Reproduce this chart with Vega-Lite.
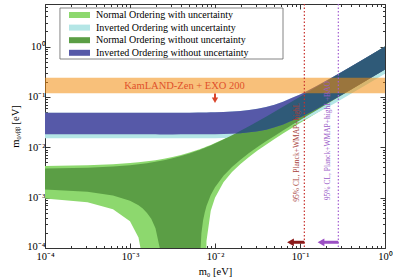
{
  "$schema": "https://vega.github.io/schema/vega-lite/v6.json",
  "width": 340,
  "height": 244,
  "autosize": {"type": "none"},
  "padding": {"left": 45, "top": 4, "right": 8, "bottom": 32},
  "config": {
    "font": "Liberation Serif",
    "view": {"stroke": "#333", "strokeWidth": 1},
    "axis": {"grid": false, "domain": false, "tickColor": "#333", "labelFont": "Liberation Serif", "labelFontSize": 10.5, "labelColor": "#000", "titleFont": "Liberation Serif", "titleFontSize": 10.5, "titleFontWeight": "normal", "titleColor": "#000", "labelFlush": false, "labelOverlap": false}
  },
  "datasets": {
    "bands": [
      {"m0": 0.0001, "no_lo": 0.001459, "no_hi": 0.003794, "nou_lo": 0.000965, "nou_hi": 0.004266, "io_lo": 0.018069, "io_hi": 0.048393, "iou_lo": 0.015112},
      {"m0": 0.000316, "no_lo": 0.001315, "no_hi": 0.003941, "nou_lo": 0.000812, "nou_hi": 0.004405, "io_lo": 0.018064, "io_hi": 0.048398, "iou_lo": 0.015106},
      {"m0": 0.000631, "no_lo": 0.001107, "no_hi": 0.004159, "nou_lo": 0.000591, "nou_hi": 0.004611, "io_lo": 0.018058, "io_hi": 0.048408, "iou_lo": 0.0151},
      {"m0": 0.001, "no_lo": 0.000868, "no_hi": 0.004418, "nou_lo": 0.000338, "nou_hi": 0.004857, "io_lo": 0.018052, "io_hi": 0.048422, "iou_lo": 0.015092},
      {"m0": 0.001259, "no_lo": 0.000703, "no_hi": 0.004603, "nou_lo": 0.000161, "nou_hi": 0.005032, "io_lo": 0.018048, "io_hi": 0.048434, "iou_lo": 0.015088},
      {"m0": 0.001413, "no_lo": 0.000607, "no_hi": 0.004715, "nou_lo": 0.000058, "nou_hi": 0.005138, "io_lo": 0.018047, "io_hi": 0.048441, "iou_lo": 0.015085},
      {"m0": 0.001585, "no_lo": 0.000498, "no_hi": 0.00484, "nou_lo": 0.000001, "nou_hi": 0.005258, "io_lo": 0.018045, "io_hi": 0.048451, "iou_lo": 0.015082},
      {"m0": 0.001778, "no_lo": 0.00038, "no_hi": 0.004982, "nou_lo": 0.000001, "nou_hi": 0.005393, "io_lo": 0.018043, "io_hi": 0.048461, "iou_lo": 0.01508},
      {"m0": 0.001995, "no_lo": 0.000248, "no_hi": 0.005142, "nou_lo": 0.000001, "nou_hi": 0.005546, "io_lo": 0.018042, "io_hi": 0.048474, "iou_lo": 0.015077},
      {"m0": 0.002239, "no_lo": 0.0001, "no_hi": 0.005324, "nou_lo": 0.000001, "nou_hi": 0.005721, "io_lo": 0.01804, "io_hi": 0.048488, "iou_lo": 0.015073},
      {"m0": 0.002512, "no_lo": 0.000001, "no_hi": 0.00553, "nou_lo": 0.000001, "nou_hi": 0.00592, "io_lo": 0.01804, "io_hi": 0.048508, "iou_lo": 0.015071},
      {"m0": 0.003162, "no_lo": 0.000001, "no_hi": 0.006031, "nou_lo": 0.000001, "nou_hi": 0.006402, "io_lo": 0.018039, "io_hi": 0.048559, "iou_lo": 0.015067},
      {"m0": 0.003981, "no_lo": 0.000001, "no_hi": 0.006679, "nou_lo": 0.000001, "nou_hi": 0.007028, "io_lo": 0.018043, "io_hi": 0.048635, "iou_lo": 0.015066},
      {"m0": 0.005012, "no_lo": 0.000001, "no_hi": 0.007522, "nou_lo": 0.000001, "nou_hi": 0.007846, "io_lo": 0.018055, "io_hi": 0.048747, "iou_lo": 0.015069},
      {"m0": 0.00631, "no_lo": 0.000001, "no_hi": 0.008616, "nou_lo": 0.000001, "nou_hi": 0.008915, "io_lo": 0.018083, "io_hi": 0.048921, "iou_lo": 0.015083},
      {"m0": 0.006607, "no_lo": 0.000045, "no_hi": 0.008871, "nou_lo": 0.000001, "nou_hi": 0.009165, "io_lo": 0.018091, "io_hi": 0.048965, "iou_lo": 0.015089},
      {"m0": 0.006918, "no_lo": 0.000197, "no_hi": 0.009139, "nou_lo": 0.000001, "nou_hi": 0.009428, "io_lo": 0.018099, "io_hi": 0.049013, "iou_lo": 0.015094},
      {"m0": 0.007244, "no_lo": 0.000354, "no_hi": 0.009422, "nou_lo": 0.000001, "nou_hi": 0.009706, "io_lo": 0.018111, "io_hi": 0.049065, "iou_lo": 0.015101},
      {"m0": 0.007586, "no_lo": 0.000515, "no_hi": 0.009723, "nou_lo": 0.000001, "nou_hi": 0.01, "io_lo": 0.018123, "io_hi": 0.049123, "iou_lo": 0.015108},
      {"m0": 0.007943, "no_lo": 0.000683, "no_hi": 0.010037, "nou_lo": 0.000137, "nou_hi": 0.010309, "io_lo": 0.018135, "io_hi": 0.049185, "iou_lo": 0.015116},
      {"m0": 0.008913, "no_lo": 0.00113, "no_hi": 0.0109, "nou_lo": 0.000549, "nou_hi": 0.011159, "io_lo": 0.018175, "io_hi": 0.049365, "iou_lo": 0.015145},
      {"m0": 0.01, "no_lo": 0.001615, "no_hi": 0.011881, "nou_lo": 0.000995, "nou_hi": 0.012126, "io_lo": 0.018228, "io_hi": 0.049588, "iou_lo": 0.015182},
      {"m0": 0.012589, "no_lo": 0.002728, "no_hi": 0.014262, "nou_lo": 0.002012, "nou_hi": 0.014482, "io_lo": 0.01839, "io_hi": 0.050214, "iou_lo": 0.015302},
      {"m0": 0.015849, "no_lo": 0.004065, "no_hi": 0.017325, "nou_lo": 0.003222, "nou_hi": 0.017518, "io_lo": 0.018654, "io_hi": 0.05116, "iou_lo": 0.015504},
      {"m0": 0.019953, "no_lo": 0.005684, "no_hi": 0.021244, "nou_lo": 0.004678, "nou_hi": 0.021414, "io_lo": 0.019092, "io_hi": 0.052632, "iou_lo": 0.015845},
      {"m0": 0.025119, "no_lo": 0.007661, "no_hi": 0.026239, "nou_lo": 0.006446, "nou_hi": 0.026387, "io_lo": 0.01981, "io_hi": 0.054908, "iou_lo": 0.016416},
      {"m0": 0.031623, "no_lo": 0.010096, "no_hi": 0.032582, "nou_lo": 0.008614, "nou_hi": 0.032708, "io_lo": 0.020857, "io_hi": 0.058125, "iou_lo": 0.017257},
      {"m0": 0.039811, "no_lo": 0.013111, "no_hi": 0.040617, "nou_lo": 0.011287, "nou_hi": 0.040724, "io_lo": 0.022376, "io_hi": 0.062724, "iou_lo": 0.018483},
      {"m0": 0.050119, "no_lo": 0.01684, "no_hi": 0.0508, "nou_lo": 0.01458, "nou_hi": 0.050889, "io_lo": 0.024846, "io_hi": 0.069982, "iou_lo": 0.020493},
      {"m0": 0.063096, "no_lo": 0.021496, "no_hi": 0.063658, "nou_lo": 0.018682, "nou_hi": 0.063733, "io_lo": 0.028212, "io_hi": 0.079806, "iou_lo": 0.02324},
      {"m0": 0.079433, "no_lo": 0.027273, "no_hi": 0.079929, "nou_lo": 0.023754, "nou_hi": 0.079994, "io_lo": 0.033455, "io_hi": 0.094829, "iou_lo": 0.027541},
      {"m0": 0.1, "no_lo": 0.034587, "no_hi": 0.100373, "nou_lo": 0.030185, "nou_hi": 0.100423, "io_lo": 0.03912, "io_hi": 0.111318, "iou_lo": 0.032167},
      {"m0": 0.125893, "no_lo": 0.043712, "no_hi": 0.126194, "nou_lo": 0.038188, "nou_hi": 0.126233, "io_lo": 0.047379, "io_hi": 0.135061, "iou_lo": 0.038938},
      {"m0": 0.158489, "no_lo": 0.055166, "no_hi": 0.15873, "nou_lo": 0.048228, "nou_hi": 0.158763, "io_lo": 0.058117, "io_hi": 0.165869, "iou_lo": 0.047746},
      {"m0": 0.251189, "no_lo": 0.087661, "no_hi": 0.251343, "nou_lo": 0.076693, "nou_hi": 0.251363, "io_lo": 0.089548, "io_hi": 0.25591, "iou_lo": 0.073534},
      {"m0": 0.398107, "no_lo": 0.139081, "no_hi": 0.398205, "nou_lo": 0.121712, "nou_hi": 0.398218, "io_lo": 0.140277, "io_hi": 0.401099, "iou_lo": 0.115171},
      {"m0": 0.630957, "no_lo": 0.220521, "no_hi": 0.631019, "nou_lo": 0.193005, "nou_hi": 0.631026, "io_lo": 0.221278, "io_hi": 0.632854, "iou_lo": 0.181664},
      {"m0": 1, "no_lo": 0.349561, "no_hi": 1.000039, "nou_lo": 0.305957, "nou_hi": 1.000044, "io_lo": 0.350039, "io_hi": 1.001197, "iou_lo": 0.287366}
    ],
    "overlap": [
      {"m0": 0.017378, "lo": 0.0188, "hi": 0.0188},
      {"m0": 0.019953, "lo": 0.019092, "hi": 0.021244},
      {"m0": 0.025119, "lo": 0.01981, "hi": 0.026239},
      {"m0": 0.031623, "lo": 0.020857, "hi": 0.032582},
      {"m0": 0.039811, "lo": 0.022376, "hi": 0.040617},
      {"m0": 0.050119, "lo": 0.024846, "hi": 0.0508},
      {"m0": 0.063096, "lo": 0.028212, "hi": 0.063658},
      {"m0": 0.079433, "lo": 0.033455, "hi": 0.079929},
      {"m0": 0.1, "lo": 0.03912, "hi": 0.100373},
      {"m0": 0.125893, "lo": 0.047379, "hi": 0.126194},
      {"m0": 0.158489, "lo": 0.058117, "hi": 0.15873},
      {"m0": 0.251189, "lo": 0.089548, "hi": 0.251343},
      {"m0": 0.398107, "lo": 0.140277, "hi": 0.398205},
      {"m0": 0.630957, "lo": 0.221278, "hi": 0.631019},
      {"m0": 1, "lo": 0.350039, "hi": 1.000039}
    ]
  },
  "layer": [
    {
      "data": {"name": "bands"},
      "mark": {"type": "area", "clip": true, "opacity": 1},
      "encoding": {
        "x": {"field": "m0", "type": "quantitative", "scale": {"type": "log", "domain": [0.0001, 1], "nice": false},
          "axis": {"orient": "bottom", "title": "m₀ [eV]", "titlePadding": 2, "labelPadding": 8,
            "values": [0.0001,0.0002,0.0003,0.0004,0.0005,0.0006,0.0007,0.0008,0.0009,0.001,0.002,0.003,0.004,0.005,0.006,0.007,0.008,0.009,0.01,0.02,0.03,0.04,0.05,0.06,0.07,0.08,0.09,0.1,0.2,0.3,0.4,0.5,0.6,0.7,0.8,0.9,1],
            "labelExpr": "datum.value==0.0001?'10⁻⁴':datum.value==0.001?'10⁻³':datum.value==0.01?'10⁻²':datum.value==0.1?'10⁻¹':datum.value==1?'10⁰':''",
            "tickSize": {"condition": {"test": "indexof([0.0001,0.001,0.01,0.1,1], datum.value) >= 0", "value": -5}, "value": -2.5}}},
        "y": {"field": "nou_lo", "type": "quantitative", "scale": {"type": "log", "domain": [0.0001, 7], "nice": false},
          "axis": {"orient": "left", "title": "m₀ᵥᵦᵦ [eV]", "titlePadding": 6, "labelPadding": 5,
            "labelOffset": {"condition": {"test": "datum.value == 0.0001", "value": -2}, "value": 0},
            "values": [0.0001,0.0002,0.0003,0.0004,0.0005,0.0006,0.0007,0.0008,0.0009,0.001,0.002,0.003,0.004,0.005,0.006,0.007,0.008,0.009,0.01,0.02,0.03,0.04,0.05,0.06,0.07,0.08,0.09,0.1,0.2,0.3,0.4,0.5,0.6,0.7,0.8,0.9,1,2,3,4,5,6,7],
            "labelExpr": "datum.value==0.0001?'10⁻⁴':datum.value==0.001?'10⁻³':datum.value==0.01?'10⁻²':datum.value==0.1?'10⁻¹':datum.value==1?'10⁰':''",
            "tickSize": {"condition": {"test": "indexof([0.0001,0.001,0.01,0.1,1], datum.value) >= 0", "value": -5}, "value": -2.5}}},
        "y2": {"field": "nou_hi"},
        "color": {"datum": "Normal Ordering with uncertainty",
          "scale": {"domain": ["Normal Ordering with uncertainty", "Inverted Ordering with uncertainty", "Normal Ordering without uncertainty", "Inverted Ordering without uncertainty"],
            "range": ["#8dd86e", "#b4e6e6", "#5b9e45", "#5659a8"]},
          "legend": {"orient": "none", "legendX": 22, "legendY": 6, "title": null, "symbolType": "M-1,-1H6V1H-1Z", "symbolSize": 36, "symbolStrokeWidth": 0, "symbolOpacity": 1,
            "labelFont": "Liberation Serif", "labelFontSize": 10, "labelColor": "#000", "labelLimit": 400, "padding": 0, "rowPadding": 2.6, "labelOffset": 19}}
      }
    },
    {
      "data": {"name": "bands"},
      "mark": {"type": "area", "clip": true},
      "encoding": {
        "x": {"field": "m0", "type": "quantitative",
          "axis": {"orient": "top", "title": null, "labels": false,
            "values": [0.0001,0.0002,0.0003,0.0004,0.0005,0.0006,0.0007,0.0008,0.0009,0.001,0.002,0.003,0.004,0.005,0.006,0.007,0.008,0.009,0.01,0.02,0.03,0.04,0.05,0.06,0.07,0.08,0.09,0.1,0.2,0.3,0.4,0.5,0.6,0.7,0.8,0.9,1],
            "tickSize": {"condition": {"test": "indexof([0.0001,0.001,0.01,0.1,1], datum.value) >= 0", "value": -5}, "value": -2.5}}},
        "y": {"field": "iou_lo", "type": "quantitative",
          "axis": {"orient": "right", "title": null, "labels": false,
            "values": [0.0001,0.0002,0.0003,0.0004,0.0005,0.0006,0.0007,0.0008,0.0009,0.001,0.002,0.003,0.004,0.005,0.006,0.007,0.008,0.009,0.01,0.02,0.03,0.04,0.05,0.06,0.07,0.08,0.09,0.1,0.2,0.3,0.4,0.5,0.6,0.7,0.8,0.9,1,2,3,4,5,6,7],
            "tickSize": {"condition": {"test": "indexof([0.0001,0.001,0.01,0.1,1], datum.value) >= 0", "value": -5}, "value": -2.5}}},
        "y2": {"field": "io_hi"},
        "color": {"datum": "Inverted Ordering with uncertainty"}
      }
    },
    {
      "data": {"name": "bands"},
      "mark": {"type": "area", "clip": true},
      "encoding": {
        "x": {"field": "m0", "type": "quantitative", "axis": null},
        "y": {"field": "no_lo", "type": "quantitative", "axis": null},
        "y2": {"field": "no_hi"},
        "color": {"datum": "Normal Ordering without uncertainty"}
      }
    },
    {
      "data": {"name": "bands"},
      "mark": {"type": "area", "clip": true},
      "encoding": {
        "x": {"field": "m0", "type": "quantitative", "axis": null},
        "y": {"field": "io_lo", "type": "quantitative", "axis": null},
        "y2": {"field": "io_hi"},
        "color": {"datum": "Inverted Ordering without uncertainty"}
      }
    },
    {
      "data": {"name": "overlap"},
      "mark": {"type": "area", "clip": true, "color": "#2f5a78"},
      "encoding": {
        "x": {"field": "m0", "type": "quantitative", "axis": null},
        "y": {"field": "lo", "type": "quantitative", "axis": null},
        "y2": {"field": "hi"}
      }
    },
    {
      "data": {"values": [{"lo": 0.118, "hi": 0.24}]},
      "mark": {"type": "rect", "color": "#f28c0d", "opacity": 0.55},
      "encoding": {
        "y": {"field": "lo", "type": "quantitative", "axis": null},
        "y2": {"field": "hi"}
      }
    },
    {
      "data": {"values": [{"x1": 0.00015, "x2": 0.0631, "y1": 0.566, "y2": 5.83}]},
      "mark": {"type": "rect", "fill": "#ffffff", "stroke": "#666666", "strokeWidth": 0.8},
      "encoding": {
        "x": {"field": "x1", "type": "quantitative", "axis": null},
        "x2": {"field": "x2"},
        "y": {"field": "y1", "type": "quantitative", "axis": null},
        "y2": {"field": "y2"}
      }
    },
    {
      "data": {"values": [{"m0": 0.00438, "y": 0.166, "t": "KamLAND-Zen + EXO 200"}]},
      "mark": {"type": "text", "color": "#e0502a", "fontSize": 10.5, "align": "center", "baseline": "middle"},
      "encoding": {
        "x": {"field": "m0", "type": "quantitative", "axis": null},
        "y": {"field": "y", "type": "quantitative", "axis": null},
        "text": {"field": "t"}
      }
    },
    {
      "data": {"values": [{"m0": 0.01, "y1": 0.117, "y2": 0.088}]},
      "mark": {"type": "rule", "color": "#d9452b", "strokeWidth": 2},
      "encoding": {
        "x": {"field": "m0", "type": "quantitative", "axis": null},
        "y": {"field": "y1", "type": "quantitative", "axis": null},
        "y2": {"field": "y2"}
      }
    },
    {
      "data": {"values": [{"m0": 0.01, "y": 0.086}]},
      "mark": {"type": "point", "shape": "triangle-down", "filled": true, "color": "#d9452b", "size": 40, "opacity": 1},
      "encoding": {
        "x": {"field": "m0", "type": "quantitative", "axis": null},
        "y": {"field": "y", "type": "quantitative", "axis": null}
      }
    },
    {
      "data": {"values": [{"m0": 0.1125}]},
      "mark": {"type": "rule", "color": "#c8322d", "strokeWidth": 1.2, "strokeDash": [1.5, 2]},
      "encoding": {"x": {"field": "m0", "type": "quantitative", "axis": null}}
    },
    {
      "data": {"values": [{"m0": 0.2825}]},
      "mark": {"type": "rule", "color": "#a45fd0", "strokeWidth": 1.2, "strokeDash": [1.5, 2]},
      "encoding": {"x": {"field": "m0", "type": "quantitative", "axis": null}}
    },
    {
      "data": {"values": [{"m0": 0.0914, "y": 0.00083, "t": "95% CL, Planck+WMAP+highL"}]},
      "mark": {"type": "text", "color": "#a8403a", "fontSize": 7.5, "angle": 270, "align": "left", "baseline": "middle"},
      "encoding": {
        "x": {"field": "m0", "type": "quantitative", "axis": null},
        "y": {"field": "y", "type": "quantitative", "axis": null},
        "text": {"field": "t"}
      }
    },
    {
      "data": {"values": [{"m0": 0.2133, "y": 0.00089, "t": "95% CL, Planck+WMAP+highL+BAO"}]},
      "mark": {"type": "text", "color": "#9b5cc8", "fontSize": 7.5, "angle": 270, "align": "left", "baseline": "middle"},
      "encoding": {
        "x": {"field": "m0", "type": "quantitative", "axis": null},
        "y": {"field": "y", "type": "quantitative", "axis": null},
        "text": {"field": "t"}
      }
    },
    {
      "data": {"values": [{"x1": 0.0773, "x2": 0.1125, "y": 0.00013}]},
      "mark": {"type": "rule", "color": "#8b1a1a", "strokeWidth": 3},
      "encoding": {
        "x": {"field": "x1", "type": "quantitative", "axis": null},
        "x2": {"field": "x2"},
        "y": {"field": "y", "type": "quantitative", "axis": null}
      }
    },
    {
      "data": {"values": [{"x": 0.0773, "y": 0.00013}]},
      "mark": {"type": "point", "shape": "triangle-left", "filled": true, "color": "#8b1a1a", "size": 60, "opacity": 1},
      "encoding": {
        "x": {"field": "x", "type": "quantitative", "axis": null},
        "y": {"field": "y", "type": "quantitative", "axis": null}
      }
    },
    {
      "data": {"values": [{"x1": 0.1766, "x2": 0.2825, "y": 0.00013}]},
      "mark": {"type": "rule", "color": "#9b4fc4", "strokeWidth": 3},
      "encoding": {
        "x": {"field": "x1", "type": "quantitative", "axis": null},
        "x2": {"field": "x2"},
        "y": {"field": "y", "type": "quantitative", "axis": null}
      }
    },
    {
      "data": {"values": [{"x": 0.1766, "y": 0.00013}]},
      "mark": {"type": "point", "shape": "triangle-left", "filled": true, "color": "#9b4fc4", "size": 60, "opacity": 1},
      "encoding": {
        "x": {"field": "x", "type": "quantitative", "axis": null},
        "y": {"field": "y", "type": "quantitative", "axis": null}
      }
    }
  ]
}
